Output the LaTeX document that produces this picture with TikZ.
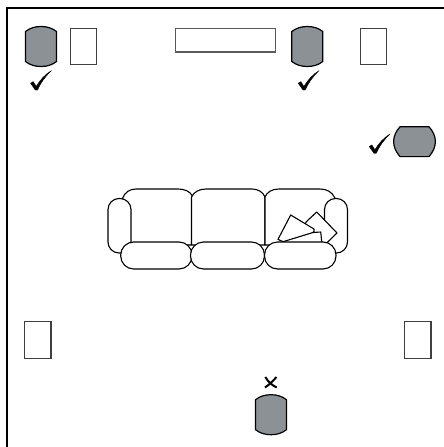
\documentclass[tikz,border=0pt]{standalone}
\definecolor{spkgray}{HTML}{8C9196}
\tikzset{
  px/.style={x=1pt,y=-1pt},
  wall/.style={line width=2.7pt,black},
  box/.style={draw=black!75,line width=1.1pt,fill=white},
  widebox/.style={draw=black!65,line width=1.5pt,fill=white},
  spk/.style={draw=black,line width=1.2pt,fill=spkgray},
  sofa/.style={draw=black,line width=1.1pt,fill=white,line join=round},
  tick/.style={fill=black,draw=black,line width=0.3pt}
}
\newcommand{\vspk}[2]{\draw[spk] (#1-15.5,#2-15) .. controls (#1-11,#2-18.5) and (#1-6,#2-20) .. (#1,#2-20) .. controls (#1+6,#2-20) and (#1+11,#2-18.5) .. (#1+15.5,#2-15) -- (#1+15.5,#2+15) .. controls (#1+11,#2+18.5) and (#1+6,#2+20) .. (#1,#2+20) .. controls (#1-6,#2+20) and (#1-11,#2+18.5) .. (#1-15.5,#2+15) -- cycle;}
\newcommand{\chk}[2]{\filldraw[tick] (#1-5.5,#2-6.8) -- (#1-2.8,#2-8.4) -- (#1+0.2,#2-3.6) .. controls (#1+4,#2-10) and (#1+9,#2-15.5) .. (#1+15.5,#2-19.5) .. controls (#1+9,#2-13) and (#1+4.5,#2-7) .. (#1+1.6,#2) -- (#1-0.8,#2) -- cycle;}
\begin{document}
\begin{tikzpicture}[px]
\useasboundingbox (0,0) rectangle (444,447);
\draw[wall] (7,447) -- (7,8) -- (444,8);
% furniture boxes
\draw[box] (70.5,28.5) rectangle (96.7,64.7);
\draw[widebox] (175.5,28.7) rectangle (275.7,52);
\draw[box] (360.5,28.5) rectangle (386.7,64.7);
\draw[box] (24.5,321.7) rectangle (51,358.3);
\draw[box] (404.5,321.7) rectangle (431,358.3);
% speakers
\vspk{41}{46.5}
\vspk{307.3}{46.5}
\vspk{271}{414.7}
\draw[spk] (400,126.8) .. controls (391.5,136) and (391.5,147) .. (400,156.6) -- (429,156.6) .. controls (437.5,147) and (437.5,136) .. (429,126.8) -- cycle;
% marks
\chk{36}{90}
\chk{303.7}{90}
\chk{374.7}{153.3}
\draw[line width=2pt] (265.3,377) .. controls (269,383) and (272,385) .. (276.7,387.5) (276.5,377) .. controls (273,381) and (269,385) .. (265,387.5);
% sofa backs
\draw[sofa] (122.7,198) .. controls (125,192) and (130,189) .. (136,189) -- (178,189) .. controls (185,189) and (190,191.5) .. (192.5,196) -- (191.5,245) -- (131,245) -- cycle;
\draw[sofa] (191.5,197) .. controls (194,192) and (199,189) .. (206,189) -- (252,189) .. controls (258,189) and (263,192) .. (265,197) -- (265,245) -- (191.5,245) -- cycle;
\draw[sofa] (265,197) .. controls (267,192) and (272,189) .. (279,189) -- (320,189) .. controls (327,189) and (332,192) .. (335,198) -- (336,245) -- (265,245) -- cycle;
% arms
\draw[sofa,rounded corners=11pt] (108,198.5) rectangle (131,253);
\draw[sofa,rounded corners=11pt] (324.5,198.5) rectangle (347.5,253);
% pillows
\draw[sofa] (306,222) -- (316.7,212) -- (337,233) -- (326.7,243) -- (300,245) -- cycle;
\draw[sofa] (278,239.3) -- (290.7,215) -- (314,229) .. controls (314.5,231) and (314,232) .. (313,232.5) -- (320.7,232) -- (322,244) -- (283,244) -- (283,241.7) -- cycle;
\draw[sofa] (283,241.7) -- (313,232.5);
% seat cushions
\draw[sofa,rounded corners=13pt] (120.7,242) rectangle (192,269);
\draw[sofa,rounded corners=13pt] (190.5,242) rectangle (264.5,269);
\draw[sofa,rounded corners=13pt] (264.5,242) rectangle (336,269);
\end{tikzpicture}
\end{document}
